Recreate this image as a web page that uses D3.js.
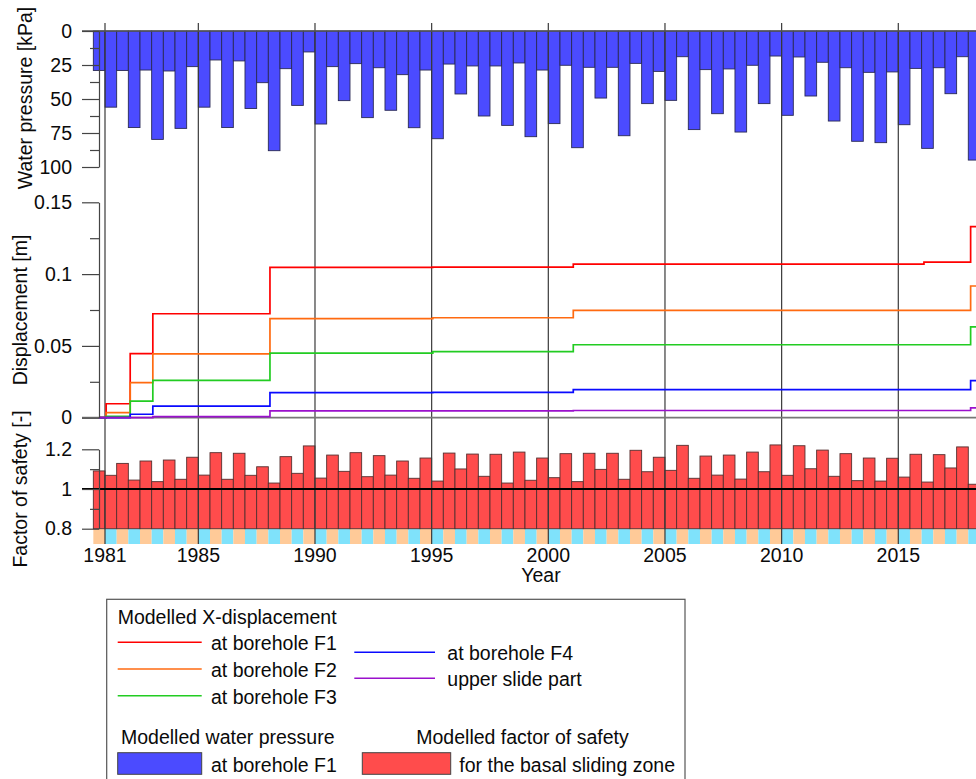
<!DOCTYPE html>
<html>
<head>
<meta charset="utf-8">
<script src="https://cdn.jsdelivr.net/npm/d3@7"></script>
<style>
  body { margin: 0; background: #fff; }
  svg { display: block; font-family: "Liberation Sans", Arial, sans-serif; }
</style>
</head>
<body>
<svg id="chart" width="976" height="779"></svg>
<script>
// ---- data -------------------------------------------------------------
// Half-year periods start in mid-1980; one value per half year.
const firstPeriodStart = 1980.5;

// Modelled water pressure at borehole F1 [kPa], per half year
const waterPressure = [
  29, 56, 29, 71, 28.7, 79.7, 29.4, 71.6, 26.2, 56,
  21.3, 71, 22, 57, 38, 88, 27.7, 54.7, 15.4, 68.4,
  26.2, 51.2, 24, 63.7, 27, 58.3, 32.1, 71.1, 28.7, 79.2,
  24.3, 46.3, 25.7, 62.5, 25.7, 69.4, 23.5, 77.7, 28.7, 68.1,
  25.2, 85.8, 26.7, 49.3, 26.7, 77, 23.8, 53.4, 29.7, 51,
  18.9, 72.5, 28.4, 60.8, 27.9, 74.3, 25.2, 53.4, 18.4, 62,
  19.1, 47.8, 23, 66.2, 27, 81.1, 30.4, 82.1, 30.1, 68.9,
  27.5, 86.3, 27, 46.1, 18.9, 94.9
];

// Modelled factor of safety for the basal sliding zone [-], per half year
const factorOfSafety = [
  1.091, 1.069, 1.129, 1.045, 1.141, 1.037, 1.146, 1.049, 1.160, 1.070,
  1.183, 1.049, 1.180, 1.069, 1.112, 1.030, 1.163, 1.079, 1.217, 1.055,
  1.171, 1.089, 1.183, 1.062, 1.168, 1.070, 1.141, 1.054, 1.156, 1.040,
  1.181, 1.101, 1.176, 1.064, 1.175, 1.030, 1.186, 1.044, 1.156, 1.057,
  1.178, 1.037, 1.180, 1.099, 1.180, 1.049, 1.195, 1.087, 1.160, 1.094,
  1.220, 1.054, 1.166, 1.070, 1.171, 1.050, 1.186, 1.087, 1.222, 1.069,
  1.218, 1.102, 1.196, 1.064, 1.178, 1.042, 1.156, 1.040, 1.155, 1.060,
  1.175, 1.035, 1.173, 1.106, 1.212, 1.024
];

// Modelled X-displacement [m]: values hold from each date until the next
const dispYears  = [1980.74, 1981.05, 1982.08, 1983.05, 1988.07, 1995.05, 2001.07, 2016.1, 2018.1, 2019];
const dispF1     = [0, 0.0097, 0.0446, 0.0724, 0.1047, 0.1049, 0.1070, 0.1084, 0.1330, 0.1330];
const dispF2     = [0, 0.0035, 0.0244, 0.0444, 0.0690, 0.0696, 0.0748, 0.0748, 0.0917, 0.0917];
const dispF3     = [0, 0.0010, 0.0116, 0.0260, 0.0450, 0.0460, 0.0508, 0.0508, 0.0632, 0.0632];
const dispF4     = [0, 0, 0.0024, 0.0081, 0.0174, 0.0177, 0.0195, 0.0195, 0.0258, 0.0258];
const dispUpper  = [0, 0, 0, 0.0007, 0.0047, 0.0047, 0.0050, 0.0050, 0.0068, 0.0068];

const dispSeries = [
  { label: "at borehole F1", color: "#ff0000", values: dispF1 },
  { label: "at borehole F2", color: "#ff6a10", values: dispF2 },
  { label: "at borehole F3", color: "#22cc22", values: dispF3 },
  { label: "at borehole F4", color: "#0a0aff", values: dispF4 },
  { label: "upper slide part", color: "#9a10cc", values: dispUpper }
];

// ticks
const yearTicks = [1981, 1985, 1990, 1995, 2000, 2005, 2010, 2015];
const pressureTicks = [0, 25, 50, 75, 100];
const pressureMinor = [12.5, 37.5, 62.5, 87.5];
const dispTicks = [0, 0.05, 0.1, 0.15];
const dispMinor = [0.025, 0.075, 0.125];
const fosTicks = [0.8, 1, 1.2];
const fosMinor = [0.9, 1.1];

// ---- layout -----------------------------------------------------------
const svg = d3.select("#chart");
const FONT = 19.5;
const TEXT = "#0a0a0a";
const axisX = 99;
const gridTop = 23, gridBottom = 544;
const stripTop = 528.7, stripBottom = 544;

const x = d3.scaleLinear().domain([1981, 2015]).range([105, 898.3]);
const yP = d3.scaleLinear().domain([0, 100]).range([31, 167]);
const yD = d3.scaleLinear().domain([0, 0.15]).range([417.7, 202.3]);
const yF = d3.scaleLinear().domain([0.8, 1.2]).range([528.7, 449.3]);

const periods = waterPressure.map((p, i) => ({
  start: firstPeriodStart + i * 0.5,
  end: firstPeriodStart + (i + 1) * 0.5,
  pressure: p,
  fos: factorOfSafety[i],
  season: i % 2
}));

// season strip under the factor-of-safety bars
svg.append("g").selectAll("rect").data(periods).join("rect")
  .attr("x", d => x(d.start))
  .attr("width", d => x(d.end) - x(d.start))
  .attr("y", stripTop)
  .attr("height", stripBottom - stripTop)
  .attr("fill", d => d.season === 0 ? "#ffca98" : "#7fe2fb");

// water pressure bars (hanging down from 0)
svg.append("g").selectAll("rect").data(periods).join("rect")
  .attr("x", d => x(d.start))
  .attr("width", d => x(d.end) - x(d.start))
  .attr("y", yP(0))
  .attr("height", d => yP(d.pressure) - yP(0))
  .attr("fill", "#4b4bff")
  .attr("stroke", "#2a2a55")
  .attr("stroke-width", 0.9);

// factor of safety bars (rising from 0.8)
svg.append("g").selectAll("rect").data(periods).join("rect")
  .attr("x", d => x(d.start))
  .attr("width", d => x(d.end) - x(d.start))
  .attr("y", d => yF(d.fos))
  .attr("height", d => yF(0.8) - yF(d.fos))
  .attr("fill", "#ff4c4c")
  .attr("stroke", "#553030")
  .attr("stroke-width", 0.9);

// vertical year grid lines
svg.append("g").selectAll("line").data(yearTicks).join("line")
  .attr("x1", d => x(d)).attr("x2", d => x(d))
  .attr("y1", gridTop).attr("y2", gridBottom)
  .attr("stroke", "#3a3a3a").attr("stroke-width", 1.2);

// horizontal reference lines
svg.append("line").attr("x1", 82).attr("x2", 976)
  .attr("y1", yP(0)).attr("y2", yP(0))
  .attr("stroke", "#555").attr("stroke-width", 1.3);
svg.append("line").attr("x1", 82).attr("x2", 976)
  .attr("y1", yD(0)).attr("y2", yD(0))
  .attr("stroke", "#777").attr("stroke-width", 1.8);
svg.append("line").attr("x1", 82).attr("x2", 976)
  .attr("y1", yF(1)).attr("y2", yF(1))
  .attr("stroke", "#000").attr("stroke-width", 2);

// displacement lines
const dispLine = d3.line()
  .x(d => x(d[0])).y(d => yD(d[1]))
  .curve(d3.curveStepAfter);
svg.append("g").selectAll("path").data(dispSeries).join("path")
  .attr("d", s => dispLine(dispYears.map((t, i) => [t, s.values[i]])))
  .attr("fill", "none")
  .attr("stroke", s => s.color)
  .attr("stroke-width", 1.7);

// y axes: minor ticks and major ticks with labels
function yAxis(scale, major, minor, fmt) {
  const gMinor = svg.append("g").attr("transform", `translate(${axisX},0)`)
    .call(d3.axisLeft(scale).tickValues(minor).tickSize(9).tickSizeOuter(0).tickFormat(""));
  gMinor.select(".domain").remove();
  const g = svg.append("g").attr("transform", `translate(${axisX},0)`)
    .call(d3.axisLeft(scale).tickValues(major).tickSize(17).tickSizeOuter(0).tickPadding(10).tickFormat(fmt));
  [gMinor, g].forEach(a => {
    a.selectAll("line").attr("stroke", "#444").attr("stroke-width", 1.2);
    a.selectAll(".domain").attr("stroke", "#444").attr("stroke-width", 1.2);
  });
  g.selectAll("text").attr("font-size", FONT).attr("fill", TEXT)
    .attr("font-family", "Liberation Sans, Arial, sans-serif");
}
yAxis(yP, pressureTicks, pressureMinor, d3.format("d"));
yAxis(yD, dispTicks, dispMinor, d => d === 0 ? "0" : String(d));
yAxis(yF, fosTicks, fosMinor, d => String(d));

// axis titles
function yTitle(text, bx, cy) {
  svg.append("text")
    .attr("transform", `translate(${bx},${cy}) rotate(-90)`)
    .attr("text-anchor", "middle")
    .attr("font-size", FONT).attr("fill", TEXT)
    .text(text);
}
yTitle("Water pressure [kPa]", 31.5, 98);
yTitle("Displacement [m]", 26.7, 310);
yTitle("Factor of safety [-]", 27.3, 489);

// x tick labels and title
svg.append("g").selectAll("text").data(yearTicks).join("text")
  .attr("x", d => x(d)).attr("y", 561.7)
  .attr("text-anchor", "middle")
  .attr("font-size", FONT).attr("fill", TEXT)
  .text(d => d);
svg.append("text").attr("x", 541).attr("y", 581.7)
  .attr("text-anchor", "middle")
  .attr("font-size", FONT).attr("fill", TEXT)
  .text("Year");

// ---- legend -----------------------------------------------------------
const lg = svg.append("g").attr("font-size", FONT).attr("fill", TEXT);
lg.append("rect").attr("x", 106.7).attr("y", 599.3).attr("width", 578.3).attr("height", 200)
  .attr("fill", "#fff").attr("stroke", "#555").attr("stroke-width", 1.2);
lg.append("text").attr("x", 117.7).attr("y", 624).text("Modelled X-displacement");

const legendLines = [
  { s: dispSeries[0], x1: 117.7, x2: 201.7, y: 642.3, tx: 211 },
  { s: dispSeries[1], x1: 117.7, x2: 201.7, y: 669,   tx: 211 },
  { s: dispSeries[2], x1: 117.7, x2: 201.7, y: 695.7, tx: 211 },
  { s: dispSeries[3], x1: 354.3, x2: 435,   y: 652.3, tx: 447.3 },
  { s: dispSeries[4], x1: 354.3, x2: 435,   y: 678.3, tx: 447.3 }
];
legendLines.forEach(l => {
  lg.append("line").attr("x1", l.x1).attr("x2", l.x2).attr("y1", l.y).attr("y2", l.y)
    .attr("stroke", l.s.color).attr("stroke-width", 1.6);
  lg.append("text").attr("x", l.tx).attr("y", l.y + 8).text(l.s.label);
});

lg.append("text").attr("x", 121).attr("y", 744.3).text("Modelled water pressure");
lg.append("rect").attr("x", 117.7).attr("y", 752.7).attr("width", 84).attr("height", 21.6)
  .attr("fill", "#4b4bff").attr("stroke", "#444").attr("stroke-width", 1);
lg.append("text").attr("x", 211).attr("y", 771.5).text("at borehole F1");

lg.append("text").attr("x", 522.5).attr("y", 744.3).attr("text-anchor", "middle")
  .text("Modelled factor of safety");
lg.append("rect").attr("x", 362.3).attr("y", 752.7).attr("width", 88.4).attr("height", 21.6)
  .attr("fill", "#ff4c4c").attr("stroke", "#444").attr("stroke-width", 1);
lg.append("text").attr("x", 459.3).attr("y", 771.5).text("for the basal sliding zone");
</script>
</body>
</html>
